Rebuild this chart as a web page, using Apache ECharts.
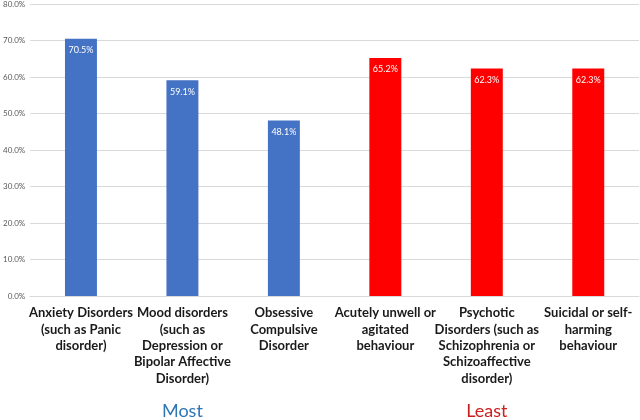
<!DOCTYPE html>
<html>
<head>
<meta charset="utf-8">
<script src="https://cdn.jsdelivr.net/npm/echarts@6/dist/echarts.min.js"></script>
<style>html,body{margin:0;padding:0;background:#fff}#c{width:640px;height:420px}</style>
</head>
<body>
<div id="c"></div>
<script>
const categories = [
  "Anxiety Disorders\n(such as Panic\ndisorder)",
  "Mood disorders\n(such as\nDepression or\nBipolar Affective\nDisorder)",
  "Obsessive\nCompulsive\nDisorder",
  "Acutely unwell or\nagitated\nbehaviour",
  "Psychotic\nDisorders (such as\nSchizophrenia or\nSchizoaffective\ndisorder)",
  "Suicidal or self-\nharming\nbehaviour"
];
const values = [70.5, 59.1, 48.1, 65.2, 62.3, 62.3];
const groups = ["Most", "Least"];
const groupSizes = [3, 3];

const chart = echarts.init(document.getElementById('c'));
chart.setOption({
  animation: false,
  grid: { left: 29, right: 1, top: 3, bottom: 123, containLabel: false },
  xAxis: [
    {
      type: 'category', data: categories,
      axisLine: { lineStyle: { color: '#d9d9d9' } },
      axisTick: { show: false },
      axisLabel: { interval: 0, margin: 9, lineHeight: 16.3, fontSize: 13, fontWeight: 'bold',
        fontFamily: 'Lato', color: '#1a1a1a' }
    },
    {
      type: 'category', data: groups, position: 'bottom',
      axisLine: { show: false }, axisTick: { show: false },
      axisLabel: { interval: 0, margin: 106, fontSize: 18, fontFamily: 'Lato',
        color: function (v) { return v === 'Most' ? '#2E75B6' : '#C9211E'; } }
    }
  ],
  yAxis: {
    type: 'value', min: 0, max: 80, interval: 10,
    axisLine: { show: false }, axisTick: { show: false },
    splitLine: { lineStyle: { color: '#d9d9d9' } },
    axisLabel: { margin: 5, fontSize: 8, fontFamily: 'Lato', color: '#595959',
      formatter: v => v.toFixed(1) + '%' }
  },
  series: [{
    type: 'bar', data: values, barWidth: '31.5%', xAxisIndex: 0,
    itemStyle: { color: p => p.dataIndex < groupSizes[0] ? '#4472C4' : '#FF0000' },
    label: { show: true, position: 'insideTop', distance: 7, color: '#fff', fontSize: 9,
      fontFamily: 'Lato', formatter: p => p.value.toFixed(1) + '%' }
  }]
});
</script>
</body>
</html>
